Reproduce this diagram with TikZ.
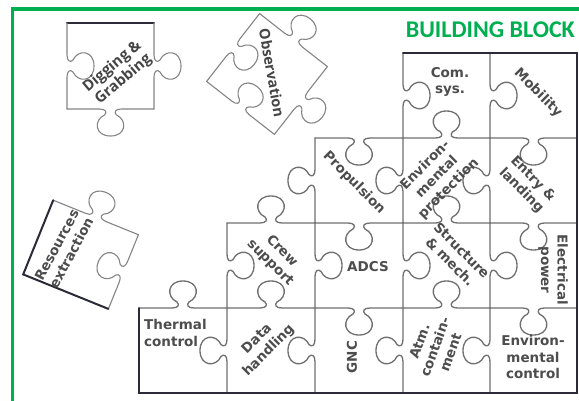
\documentclass[tikz,border=0pt]{standalone}
\usepackage{fontspec}
\setmainfont{DejaVu Sans}
\newfontfamily\titlefont{Carlito}
\newfontfamily\osfont{Open Sans}
\definecolor{bbgreen}{HTML}{00B050}
\definecolor{lblgray}{HTML}{4D4D4D}
\definecolor{edgegray}{HTML}{707070}
\definecolor{edgedark}{HTML}{2A2A38}
\tikzset{
  gridedge/.style={draw=edgegray, line width=1.3pt, line join=round, line cap=round},
  looseedge/.style={draw=edgegray!85, line width=1.1pt, line join=round, line cap=round},
  darkedge/.style={draw=edgedark, line width=2pt, line cap=round},
  lbl/.style={text=lblgray, font=\bfseries\fontsize{13.5}{16.5}\selectfont, align=center, inner sep=0pt},
  oslbl/.style={text=lblgray!90!black, font=\osfont\bfseries\fontsize{15}{17}\selectfont, align=center, inner sep=0pt},
}
% edge with a knob: [style]{x1}{y1}{x2}{y2}{s}, s=+1 bulge to the right-hand side of travel (pixel coords)
\newcommand\pedge[6][gridedge]{%
  \pgfmathsetmacro\pedL{veclen(#4-#2,#5-#3)}%
  \pgfmathsetmacro\pedA{atan2(#5-#3,#4-#2)}%
  \pgfmathsetmacro\pedMx{(#2+#4)/2}%
  \pgfmathsetmacro\pedMy{(#3+#5)/2}%
  \pgfmathsetmacro\pedH{\pedL/2}%
  \pgfmathsetmacro\pedS{-1*(#6)}%
  \begin{scope}[shift={(\pedMx pt,-\pedMy pt)}, rotate=-\pedA, x={(1pt,0pt)}, y={(0pt,\pedS pt)}]
    \draw[#1] (-\pedH,0) -- (-11,0) .. controls (-5,0) and (-3,3) .. (-6,6)
      .. controls (-17,11) and (-16,27) .. (0,27)
      .. controls (16,27) and (17,11) .. (6,6)
      .. controls (3,3) and (5,0) .. (11,0) -- (\pedH,0);
  \end{scope}}
\begin{document}
\begin{tikzpicture}[x=1pt,y=-1pt]
\useasboundingbox (0,0) rectangle (579,400);
\clip (0,0) rectangle (579,400);
\fill[white] (0,0) rectangle (579,400);
% green frame
\draw[bbgreen, line width=3.4pt] (12.5,420) -- (12.5,9) -- (620,9);
\node[anchor=base east, inner sep=0pt, text=bbgreen, font=\titlefont\bfseries\fontsize{24}{28}\selectfont] (title) at (575,37.5) {BUILDING BLOCK};

% ---------- main grid ----------
% horizontal edges (left to right, +1 = down)
\pedge{315}{138}{403}{138}{1}
\pedge{403}{138}{490}{138}{-1}
\pedge{490}{138}{577}{138}{1}
\pedge{227}{223}{315}{223}{-1}
\pedge{315}{223}{403}{223}{1}
\pedge{403}{223}{490}{223}{-1}
\pedge{490}{223}{577}{223}{1}
\pedge{139}{308}{227}{308}{-1}
\pedge{227}{308}{315}{308}{-1}
\pedge{315}{308}{403}{308}{1}
\pedge{403}{308}{490}{308}{-1}
\pedge{490}{308}{577}{308}{1}
% vertical edges (top to bottom, +1 = left)
\pedge{403}{53}{403}{138}{-1}
\pedge{490}{53}{490}{138}{-1}
\pedge{315}{138}{315}{223}{1}
\pedge{403}{138}{403}{223}{1}
\pedge{490}{138}{490}{223}{1}
\pedge{227}{223}{227}{308}{-1}
\pedge{315}{223}{315}{308}{-1}
\pedge{403}{223}{403}{308}{-1}
\pedge{490}{223}{490}{308}{-1}
\pedge{227}{308}{227}{393}{1}
\pedge{315}{308}{315}{393}{1}
\pedge{403}{308}{403}{393}{1}
\pedge{490}{308}{490}{393}{1}
% outer dark border
\draw[darkedge] (403,53) -- (577,53) -- (577,393) -- (139,393) -- (139,308);

% labels
\node[lbl] (com) at (450,82) {Com.\\sys.};
\node[lbl, rotate=-45] (mob) at (538,93) {Mobility};
\node[lbl, rotate=-45] (prop) at (354,183) {Propulsion};
\node[lbl, rotate=45] (envp) at (437,177) {Environ-\\mental\\protection};
\node[lbl, rotate=-45] (entry) at (527,185) {Entry \&\\landing};
\node[lbl, rotate=-45] (crew) at (276,257) {Crew\\support};
\node[lbl] (adcs) at (368,267) {ADCS};
\node[lbl, rotate=-45] (struct) at (456,256) {Structure\\\& mech.};
\node[lbl, rotate=-90] (elec) at (553,270) {Electrical\\power};
\node[lbl, align=left, anchor=west] (therm) at (144,333) {Thermal\\control};
\node[lbl, rotate=45] (data) at (263,345) {Data\\handling};
\node[lbl, rotate=90] (gnc) at (352,357) {GNC};
\node[lbl, rotate=70] (atm) at (435,347) {Atm.\\contain-\\ment};
\node[lbl] (envc) at (533,357) {Environ-\\mental\\control};

% ---------- loose pieces ----------
% Digging & Grabbing
\draw[darkedge] (67,23) -- (154,23);
\pedge[looseedge]{154}{23}{154}{109}{-1}
\pedge[looseedge]{67}{109}{154}{109}{1}
\pedge[looseedge]{67}{23}{67}{109}{-1}
\node[oslbl, rotate=40] (dig) at (118,73) {Digging \&\\Grabbing};

% Observation
\pedge[looseedge]{259.6}{13.6}{327.4}{66.6}{-1}
\pedge[looseedge]{327.4}{66.6}{274.4}{134.4}{-1}
\pedge[looseedge]{274.4}{134.4}{206.6}{81.4}{1}
\pedge[looseedge]{206.6}{81.4}{259.6}{13.6}{1}
\node[oslbl, font=\osfont\bfseries\fontsize{14.5}{17}\selectfont, rotate=-80] (obs) at (272,73) {Observation};

% Resources extraction
\pedge[looseedge]{53.2}{200.2}{138.4}{234.7}{-1}
\pedge[looseedge]{138.4}{234.7}{108.4}{308.9}{1}
\draw[darkedge] (108.4,308.9) -- (23.2,274.4) -- (53.2,200.2);
\node[lbl, font=\bfseries\fontsize{13.5}{16.5}\selectfont, rotate=62] (res) at (64,249) {Resources\\extraction};
\end{tikzpicture}
\end{document}
